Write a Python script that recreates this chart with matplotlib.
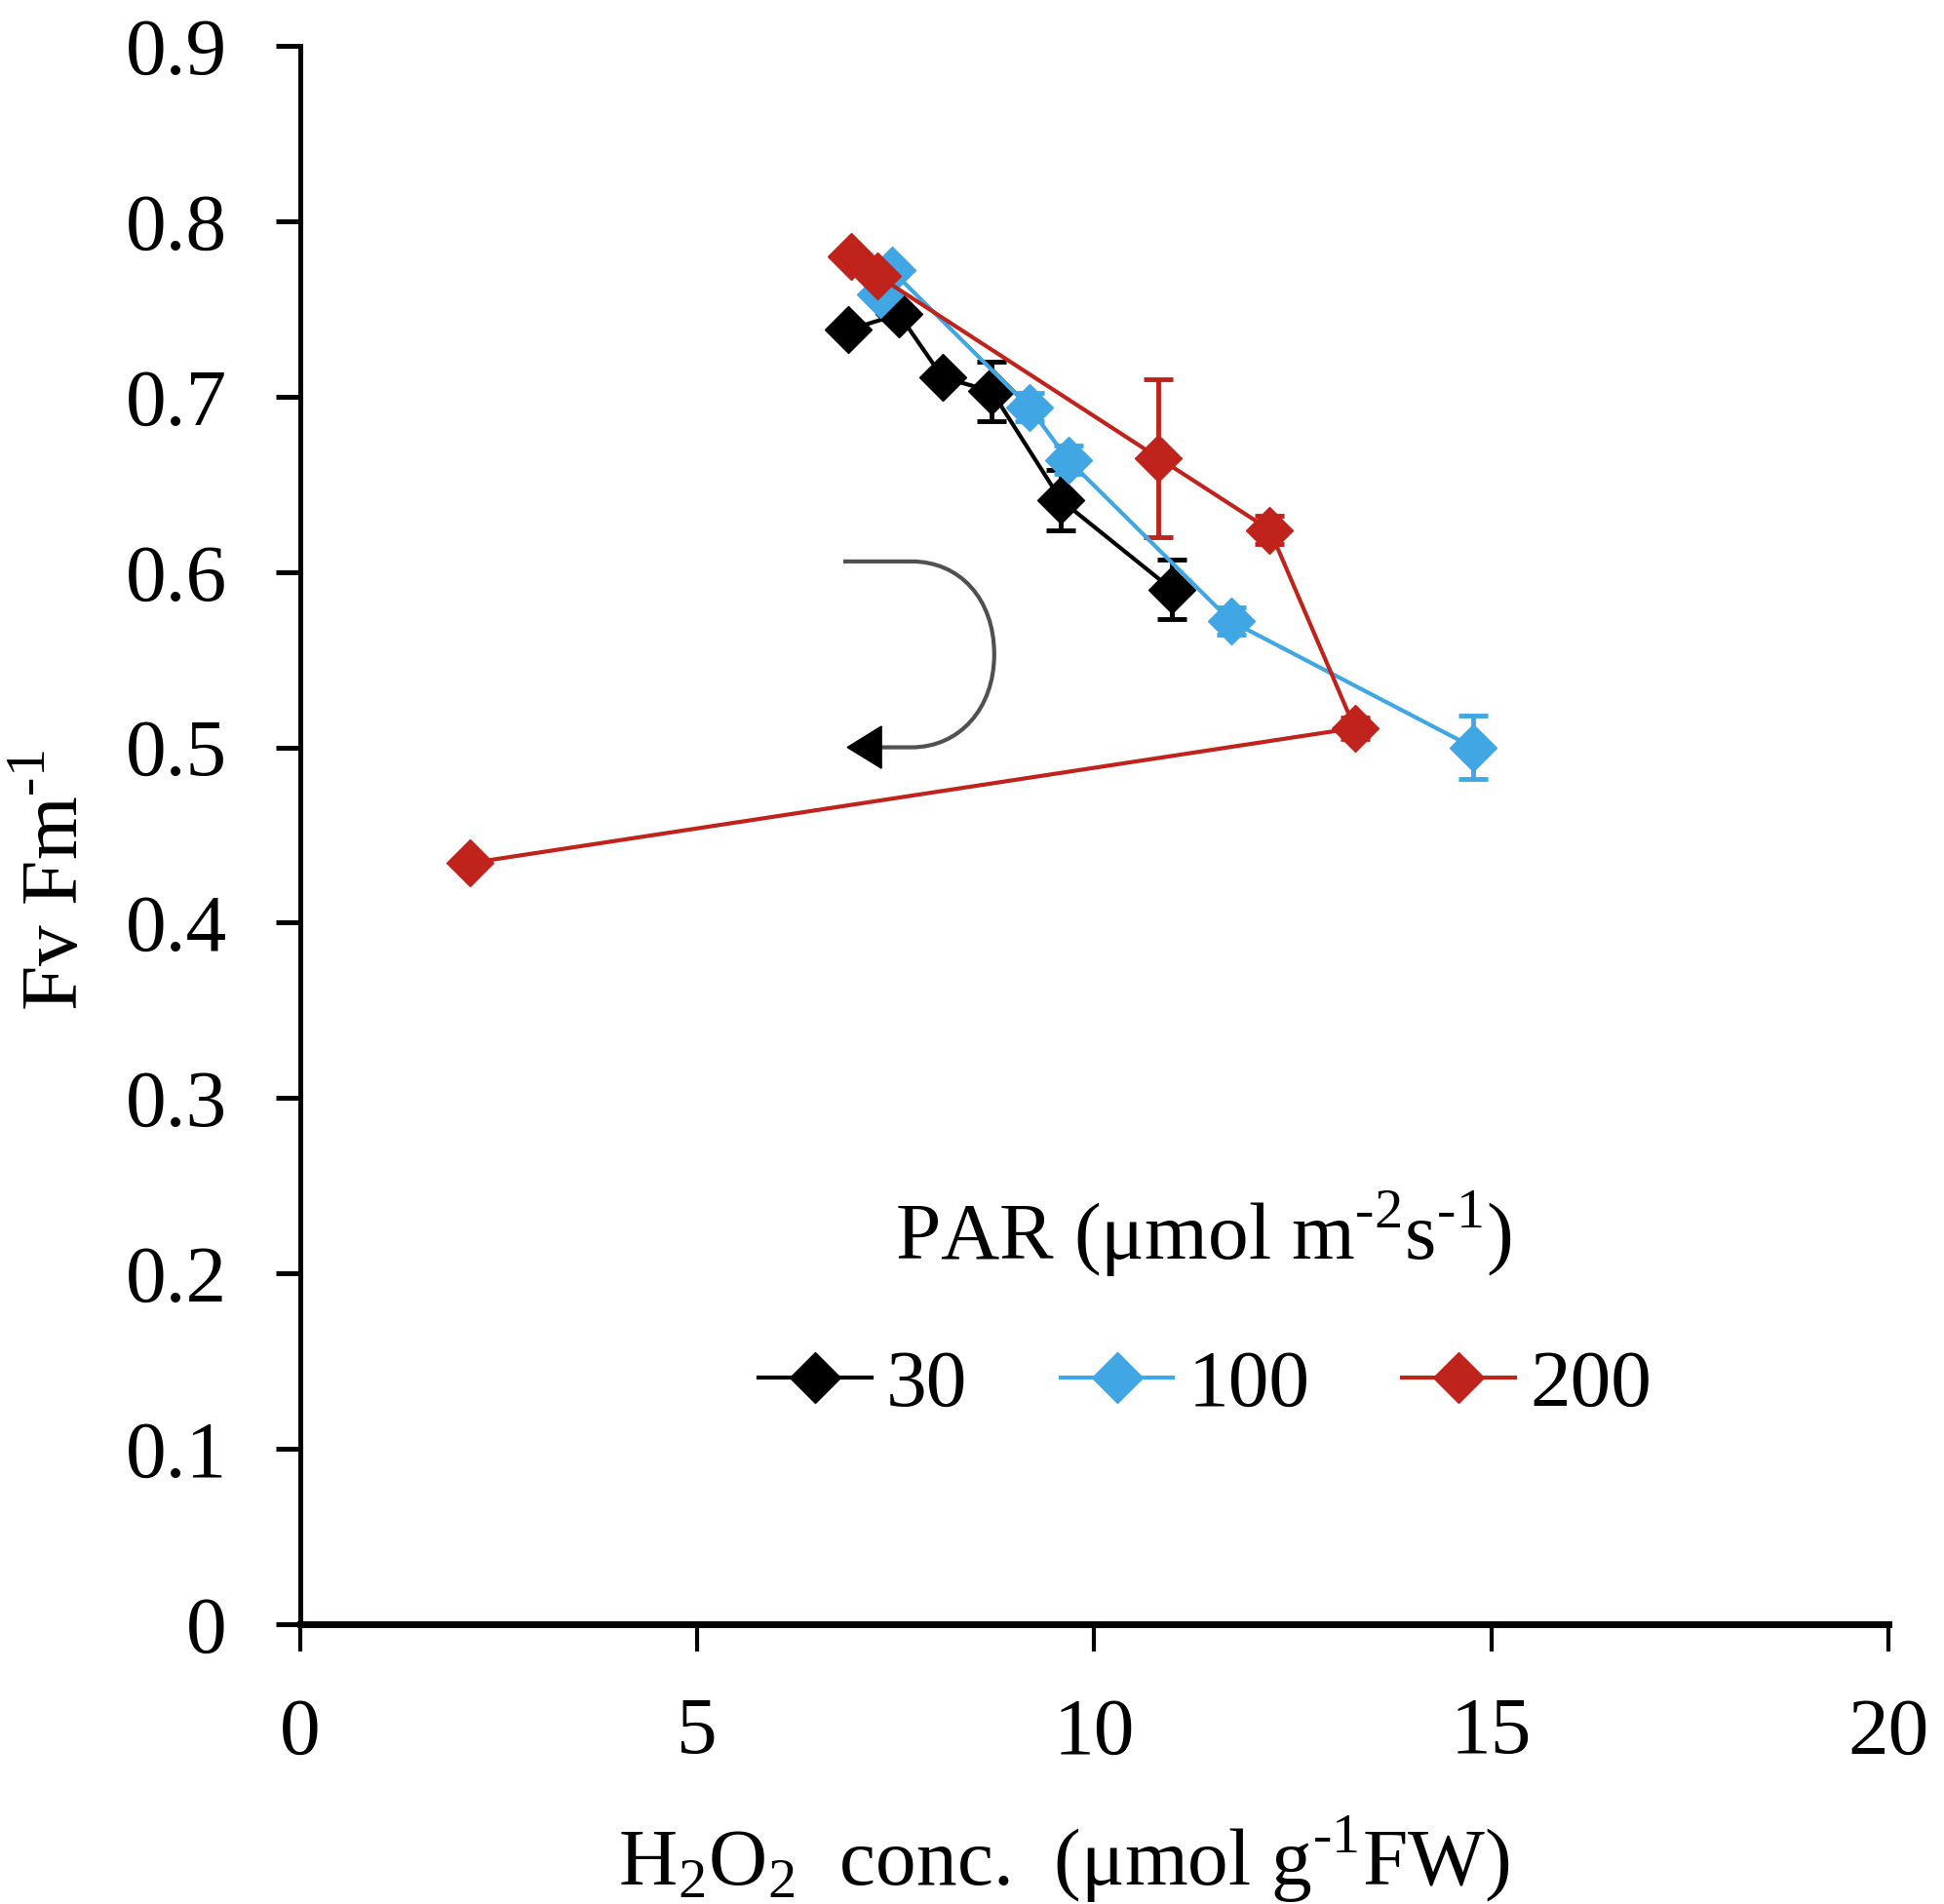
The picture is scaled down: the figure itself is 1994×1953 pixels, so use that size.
import numpy as np
import matplotlib
matplotlib.use("Agg")
import matplotlib.pyplot as plt
from matplotlib.path import Path
from matplotlib.patches import PathPatch, Polygon
from matplotlib.lines import Line2D

plt.rcParams['font.family'] = ['Liberation Serif', 'DejaVu Serif']
plt.rcParams['mathtext.fontset'] = 'custom'
plt.rcParams['mathtext.rm'] = 'Liberation Serif'

# PAR 30
x30 = [6.90, 7.54, 8.09, 8.71, 9.58, 10.98]
y30 = [0.738, 0.747, 0.711, 0.703, 0.641, 0.590]
e30 = [0.0, 0.0, 0.0, 0.017, 0.017, 0.017]
# PAR 100
x100 = [7.31, 7.45, 9.18, 9.67, 11.72, 14.77]
y100 = [0.758, 0.772, 0.694, 0.664, 0.572, 0.500]
e100 = [0.0, 0.0, 0.008, 0.008, 0.008, 0.018]
# PAR 200
x200 = [6.94, 7.27, 10.81, 12.21, 13.28, 2.14]
y200 = [0.780, 0.769, 0.665, 0.624, 0.511, 0.434]
e200 = [0.0, 0.0, 0.045, 0.008, 0.006, 0.0]

labels = ['30', '100', '200']
colors = ['#000000', '#41a6e4', '#c0221c']

xticks = [0, 5, 10, 15, 20]
yticks = [0, 0.1, 0.2, 0.3, 0.4, 0.5, 0.6, 0.7, 0.8, 0.9]

fs = 60

fig = plt.figure(figsize=(19.94, 19.53), dpi=100)
ax = fig.add_axes([0.1544, 0.1470, 0.8170, 0.8289])

series = [(x30, y30, e30), (x100, y100, e100), (x200, y200, e200)]
handles = []
for (xs, ys, es), c in zip(series, colors):
    ax.errorbar(xs, ys, yerr=es, color=c, lw=3, marker='D', ms=24,
                mec=c, mfc=c, elinewidth=3.5, capsize=11, capthick=3.5)
    handles.append(Line2D([], [], color=c, lw=3, marker='D', ms=26, mec=c, mfc=c))

# curved arrow (annotation)
arr_verts = [(6.84, 0.606), (7.7, 0.606),
             (8.3, 0.606), (8.74, 0.585), (8.74, 0.553),
             (8.74, 0.522), (8.3, 0.500), (7.7, 0.500),
             (7.2, 0.500)]
arr_codes = [Path.MOVETO, Path.LINETO,
             Path.CURVE4, Path.CURVE4, Path.CURVE4,
             Path.CURVE4, Path.CURVE4, Path.CURVE4,
             Path.LINETO]
ax.add_patch(PathPatch(Path(arr_verts, arr_codes), fill=False,
                       edgecolor='#505050', lw=3))
ax.add_patch(Polygon([(6.89, 0.500), (7.32, 0.512), (7.32, 0.488)],
                     closed=True, color='black'))

ax.set_xlim(0, 20)
ax.set_ylim(0, 0.9)
ax.set_xticks(xticks)
ax.set_yticks(yticks)
ax.set_xticklabels([str(v) for v in xticks])
ax.set_yticklabels(['0'] + ['%.1f' % v for v in yticks[1:]])

for s in ['top', 'right']:
    ax.spines[s].set_visible(False)
ax.spines['bottom'].set_linewidth(5.0)
ax.spines['left'].set_linewidth(3.6)
ax.tick_params(axis='x', direction='out', length=20, width=3.0,
               labelsize=fs, pad=34)
ax.tick_params(axis='y', direction='out', length=18, width=3.6,
               labelsize=fs, pad=36)

ax.set_xlabel(r'H$_{\mathregular{2}}$O$_{\mathregular{2}}$  conc.  '
              r'($\mathregular{\mu}$mol g$^{\text{-1}}$FW)', fontsize=fs)
ax.xaxis.set_label_coords(0.481, -0.121)
ax.set_ylabel(r'Fv Fm$^{\text{-1}}$', fontsize=fs)
ax.yaxis.set_label_coords(-0.129, 0.471)

fig.text(0.619, 0.352, r'PAR ($\mathregular{\mu}$mol m$^{\text{-2}}$s$^{\text{-1}}$)',
         fontsize=fs, ha='center', va='center')

leg = ax.legend(handles=handles, labels=labels, ncol=3, frameon=False,
                fontsize=fs, loc='center', bbox_to_anchor=(0.620, 0.272),
                bbox_transform=fig.transFigure, handlelength=1.39,
                handletextpad=0.18, columnspacing=1.14)

fig.savefig('out.png', dpi=100)
